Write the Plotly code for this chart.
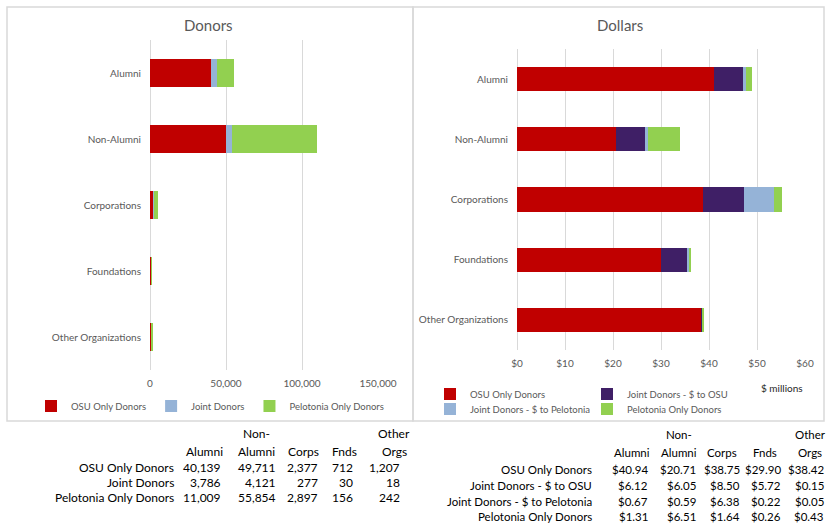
import plotly.graph_objects as go

W, H = 826, 524

categories = ["Alumni", "Non-Alumni", "Corporations", "Foundations", "Other Organizations"]
table_cols = ["Alumni", "Non-<br>Alumni", "Corps", "Fnds", "Other<br>Orgs"]

donor_series = ["OSU Only Donors", "Joint Donors", "Pelotonia Only Donors"]
donors_osu = [40139, 49711, 2377, 712, 1207]
donors_joint = [3786, 4121, 277, 30, 18]
donors_pel = [11009, 55854, 2897, 156, 242]

dollar_series = ["OSU Only Donors", "Joint Donors - $ to OSU",
                 "Joint Donors - $ to Pelotonia", "Pelotonia Only Donors"]
dollars_osu = [40.94, 20.71, 38.75, 29.90, 38.42]
dollars_joint_osu = [6.12, 6.05, 8.50, 5.72, 0.15]
dollars_joint_pel = [0.67, 0.59, 6.38, 0.22, 0.05]
dollars_pel = [1.31, 6.51, 1.64, 0.26, 0.43]

donor_ticks = [0, 50000, 100000, 150000]
dollar_ticks = [0, 10, 20, 30, 40, 50, 60]

RED = "#C00000"
PURPLE = "#3F1F66"
LBLUE = "#95B3D7"
GREEN = "#92D050"
GRID = "#D9D9D9"
GREYTXT = "#595959"
FONT = "Lato, Carlito, sans-serif"


def px(x):
    return x / W


def py(y):
    return 1 - y / H


fig = go.Figure()

# Donors panel
for name, vals, col in zip(donor_series, [donors_osu, donors_joint, donors_pel], [RED, LBLUE, GREEN]):
    fig.add_trace(go.Bar(
        y=categories, x=vals, name=name, orientation="h",
        marker=dict(color=col, line_width=0), width=0.41,
        xaxis="x", yaxis="y", legend="legend",
    ))

# Dollars panel
for i, (name, vals, col) in enumerate(zip(
        dollar_series,
        [dollars_osu, dollars_joint_osu, dollars_joint_pel, dollars_pel],
        [RED, PURPLE, LBLUE, GREEN])):
    fig.add_trace(go.Bar(
        y=categories, x=vals, name=name, orientation="h",
        marker=dict(color=col, line_width=0), width=0.4,
        xaxis="x2", yaxis="y2", legend="legend2" if i < 2 else "legend3",
    ))

axis_common = dict(showgrid=True, gridcolor=GRID, gridwidth=1, zeroline=True,
                   zerolinecolor=GRID, zerolinewidth=1, showline=False, ticks="",
                   tickfont=dict(size=10, color=GREYTXT), fixedrange=True,
                   ticklabelstandoff=6)
cat_common = dict(showgrid=False, zeroline=False, showline=False, ticks="",
                  autorange="reversed", tickfont=dict(size=10, color=GREYTXT),
                  ticklabelstandoff=8)

legend_common = dict(orientation="h", bgcolor="rgba(0,0,0,0)", traceorder="normal",
                     font=dict(size=9.5, color=GREYTXT), itemwidth=30,
                     xref="paper", yref="paper", yanchor="middle")

annotations = [
    dict(text="Donors", x=px(209), y=py(25), font=dict(size=15, color=GREYTXT)),
    dict(text="Dollars", x=px(620), y=py(25), font=dict(size=15, color=GREYTXT)),
    dict(text="$ millions", x=px(782), y=py(388), font=dict(size=10, color="#262626")),
]
for a in annotations:
    a.update(xref="paper", yref="paper", showarrow=False, xanchor="center", yanchor="middle")


def add_text(text, x, y, anchor, size):
    annotations.append(dict(text=text, x=px(x), y=py(y), xref="paper", yref="paper",
                            showarrow=False, xanchor=anchor, yanchor="middle",
                            font=dict(size=size, color="#000000")))


def add_table(hdr_x, hdr_y, label_x, val_x, rows_y, names, series, fmt, size):
    for h, hx in zip(table_cols, hdr_x):
        parts = h.split("<br>")
        if len(parts) == 2:
            add_text(parts[0], hx, hdr_y[0], "center", size)
        add_text(parts[-1], hx, hdr_y[1], "center", size)
    for name, vals, ry in zip(names, series, rows_y):
        add_text(name, label_x, ry, "right", size)
        for v, vx in zip(vals, val_x):
            add_text(fmt(v), vx, ry, "right", size)


# Left table (donor counts)
add_table([204, 256, 303, 344, 394], [433, 451], 176,
          [223, 278, 320, 355, 402], [467, 482, 497],
          donor_series, [donors_osu, donors_joint, donors_pel],
          lambda v: f"{v:,}", 12)

# Right table (dollars, $ millions)
add_table([632, 679, 722, 765, 810], [434, 452], 594,
          [650, 698, 742, 783, 826], [469, 485, 501, 516],
          dollar_series, [dollars_osu, dollars_joint_osu, dollars_joint_pel, dollars_pel],
          lambda v: f"${v:.2f}", 11.5)

# Panel borders
shapes = [
    dict(type="rect", x0=px(7), x1=px(413), y0=py(421), y1=py(7),
         line=dict(color="#D9D9D9", width=1.5)),
    dict(type="rect", x0=px(413), x1=px(824), y0=py(421), y1=py(7),
         line=dict(color="#D9D9D9", width=1.5)),
]
for s in shapes:
    s.update(xref="paper", yref="paper", layer="below")

fig.update_layout(
    width=W, height=H,
    margin=dict(l=0, r=0, t=0, b=0, autoexpand=False),
    paper_bgcolor="white", plot_bgcolor="white",
    font=dict(family=FONT, color=GREYTXT),
    barmode="stack",
    xaxis=dict(domain=[px(150), px(378)], range=[0, 150000], tickvals=donor_ticks,
               ticktext=[f"{v:,}" for v in donor_ticks], anchor="y", **axis_common),
    yaxis=dict(domain=[py(370), py(40)], anchor="x", **cat_common),
    xaxis2=dict(domain=[px(517), px(805)], range=[0, 60], tickvals=dollar_ticks,
                ticktext=[f"${v}" for v in dollar_ticks], anchor="y2", **axis_common),
    yaxis2=dict(domain=[py(350), py(49)], anchor="x2", **cat_common),
    legend=dict(x=px(210), y=py(406), xanchor="center", **legend_common),
    legend2=dict(x=px(430), y=py(394), xanchor="left", entrywidth=112,
                 entrywidthmode="pixels", **legend_common),
    legend3=dict(x=px(430), y=py(409), xanchor="left", entrywidth=112,
                 entrywidthmode="pixels", **legend_common),
    annotations=annotations,
    shapes=shapes,
    showlegend=True,
)

# drop the page's default 8px body margin so the figure sits at the top-left corner
fig.write_html("out.html", config={"displayModeBar": False},
               post_script="document.body.style.margin = '0';")
